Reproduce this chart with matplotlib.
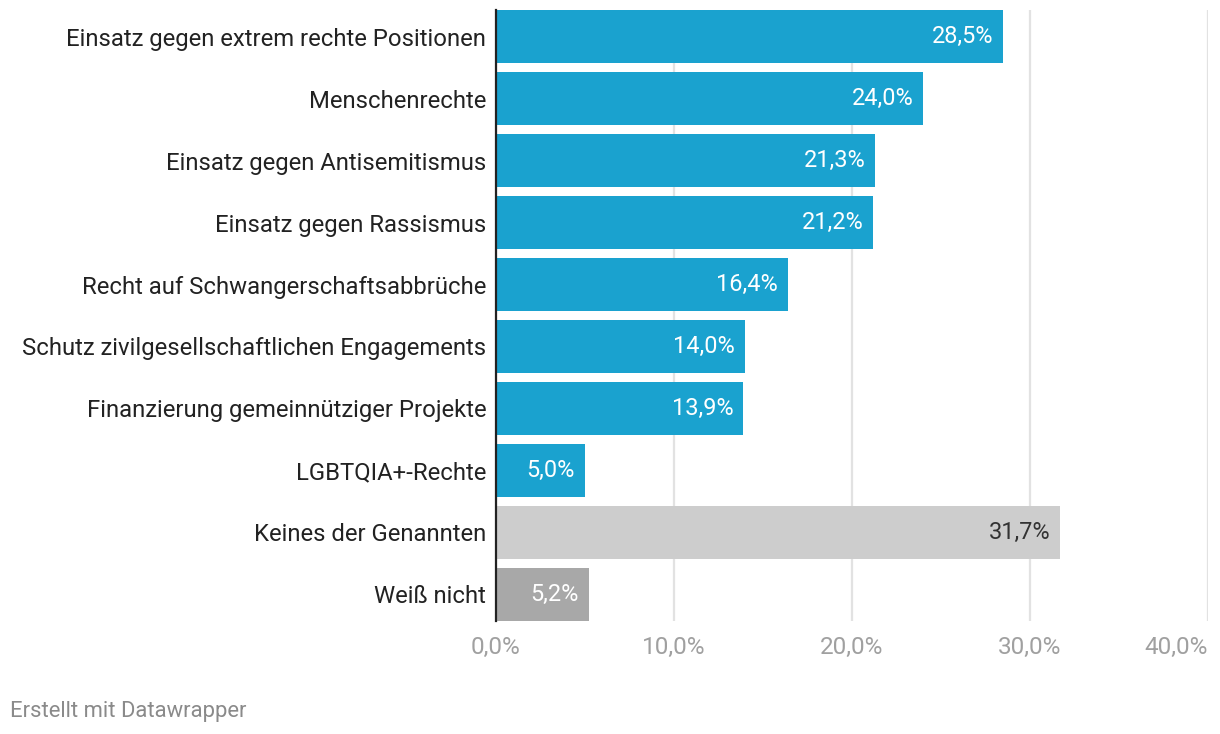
import matplotlib.pyplot as plt

plt.rcParams['font.family'] = ['Roboto', 'DejaVu Sans']

categories = [
    "Einsatz gegen extrem rechte Positionen",
    "Menschenrechte",
    "Einsatz gegen Antisemitismus",
    "Einsatz gegen Rassismus",
    "Recht auf Schwangerschaftsabbrüche",
    "Schutz zivilgesellschaftlichen Engagements",
    "Finanzierung gemeinnütziger Projekte",
    "LGBTQIA+-Rechte",
    "Keines der Genannten",
    "Weiß nicht",
]
values = [28.5, 24.0, 21.3, 21.2, 16.4, 14.0, 13.9, 5.0, 31.7, 5.2]
colors = ["#1aa2cf"] * 8 + ["#cdcdcd", "#a8a8a8"]
label_colors = ["white"] * 8 + ["#333333", "white"]
xticks = [0, 10, 20, 30, 40]

BAR_H = 0.855

fig = plt.figure(figsize=(12.2, 7.34), dpi=100)
ax = fig.add_axes([496 / 1220, 1 - 621 / 734, 712 / 1220, 611 / 734])

ypos = list(range(len(categories)))
ax.barh(ypos, values, height=BAR_H, color=colors, zorder=2)

for y, v, c in zip(ypos, values, label_colors):
    ax.annotate(f"{v:.1f}%".replace(".", ","), (v, y), xytext=(-10, 0),
                textcoords="offset pixels", ha="right", va="center",
                fontsize=16.9, color=c, zorder=3)

ax.set_xlim(0, 40)
ax.set_ylim(len(categories) - 1 + BAR_H / 2, -BAR_H / 2)

ax.set_xticks(xticks)
ax.set_xticklabels([f"{t:.1f}%".replace(".", ",") for t in xticks],
                   fontsize=17.5, color="#a0a0a0")
ax.get_xticklabels()[-1].set_ha("right")
ax.tick_params(axis="x", length=0, pad=11)
ax.grid(axis="x", color="#e2e2e2", linewidth=1.6, zorder=0)

ax.set_yticks(ypos)
ax.set_yticklabels(categories, fontsize=17.2, color="#222222")
ax.tick_params(axis="y", length=0, pad=7)

for side in ["top", "right", "bottom"]:
    ax.spines[side].set_visible(False)
ax.spines["left"].set_linewidth(1.6)
ax.spines["left"].set_color("#222222")
ax.spines["left"].set_zorder(4)

fig.text(10 / 1220, 1 - 711 / 734, "Erstellt mit Datawrapper",
         fontsize=15.8, color="#8a8a8a", va="center", ha="left")

fig.savefig("out.png", dpi=100)
